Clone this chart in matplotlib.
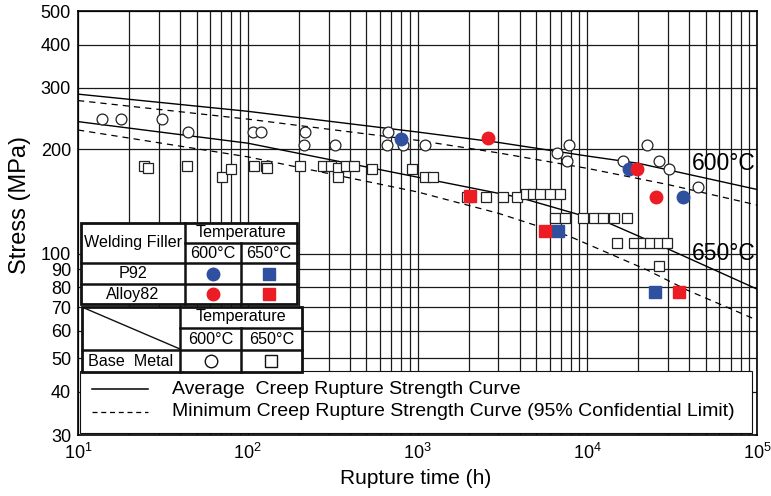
import numpy as np
import matplotlib.pyplot as plt
from matplotlib.patches import Rectangle
from matplotlib.lines import Line2D
from matplotlib.transforms import IdentityTransform
from matplotlib.ticker import FixedLocator, FixedFormatter, NullLocator

plt.rcParams['font.family'] = ['Liberation Sans', 'DejaVu Sans']

W, H = 771, 496
BLUE = '#2f4f9f'
RED = '#ec1c24'

# creep rupture strength curves (time h, stress MPa)
t_avg_600 = [10, 100, 1000, 3000, 10000, 20000, 100000]
s_avg_600 = [288, 257, 224, 209, 191, 182, 153]
t_min_600 = [10, 100, 1000, 3000, 10000, 30000, 100000]
s_min_600 = [276, 244, 212, 195, 176, 158, 138]
t_avg_650 = [10, 100, 1000, 4000, 13600, 30700, 100000]
s_avg_650 = [240, 208, 166, 145, 122, 102.5, 79]
t_min_650 = [10, 100, 1000, 3000, 7900, 22500, 38700, 100000]
s_min_650 = [227, 190, 150.5, 130.6, 112, 89.7, 78.5, 64.3]

# base metal 600C (open circles)
t_base_600 = [13.8, 17.8, 31.1, 44.5, 107, 119, 218, 215, 327, 673, 658, 824,
              1107, 6607, 7839, 7632, 22590, 16300, 26360, 30310, 44920]
s_base_600 = [244, 244, 244, 224.5, 224, 224, 224.5, 205, 205, 224.5, 205, 205,
              205.5, 194.5, 205.5, 184.4, 205, 185, 185, 175, 155.5]

# base metal 650C (open squares)
t_base_650 = [24.5, 25.7, 43.7, 70.2, 80, 108.8, 128, 130, 203, 278.6, 308, 342,
              379, 422.7, 338.8, 541.6, 924, 1107, 1239,
              1970, 2533, 3189, 3857, 4357, 4790, 5268, 6034, 6907,
              6457, 7396, 9446, 10960, 12380, 14380, 17140,
              14960, 18950, 21290, 23400, 26420, 29440, 26360]
s_base_650 = [178.8, 176.1, 178.8, 165.8, 175.7, 178.8, 178.8, 176, 178.8, 178.8, 178.8, 177,
              178.8, 178.8, 165.8, 175.7, 175.7, 165.8, 165.8,
              146, 146, 146, 146, 148.4, 148.4, 148.4, 148.4, 148.4,
              126.4, 126.4, 126.4, 126.4, 126.4, 126.4, 126.4,
              107.1, 107.1, 107.1, 107.1, 107.1, 107.1, 92.3]

# weld joints
t_p92_600 = [800, 17550, 36490]
s_p92_600 = [214, 175, 146]
t_a82_600 = [2592, 19720, 25520]
s_a82_600 = [215, 175, 146]
t_p92_650 = [6752, 25180]
s_p92_650 = [116.4, 77.6]
t_a82_650 = [2038, 5637, 34840]
s_a82_650 = [146.5, 116.4, 77.6]

y_ticks = [30, 40, 50, 60, 70, 80, 90, 100, 200, 300, 400, 500]
x_ticks = [10, 100, 1000, 10000, 100000]
x_labels = [r'$\mathregular{10^{%d}}$' % i for i in range(1, 6)]

fig = plt.figure(figsize=(W / 100, H / 100), dpi=100)
ax = fig.add_axes([78 / W, 1 - 435 / H, (757 - 78) / W, (435 - 11) / H])
ax.set_xscale('log')
ax.set_yscale('log')
ax.set_xlim(10, 1e5)
ax.set_ylim(30, 500)

ax.yaxis.set_major_locator(FixedLocator(y_ticks))
ax.yaxis.set_major_formatter(FixedFormatter([str(v) for v in y_ticks]))
ax.yaxis.set_minor_locator(NullLocator())
ax.xaxis.set_major_locator(FixedLocator(x_ticks))
ax.xaxis.set_major_formatter(FixedFormatter(x_labels))
minor_x = [m * 10 ** d for d in range(1, 5) for m in range(2, 10)]
ax.xaxis.set_minor_locator(FixedLocator(minor_x))
ax.grid(True, which='both', color='#1a1a1a', lw=0.9)
ax.tick_params(which='both', length=0, labelsize=13)
ax.tick_params(axis='y', pad=5)
ax.tick_params(axis='x', pad=6)
for sp in ax.spines.values():
    sp.set_linewidth(1.2)

ax.plot(t_avg_600, s_avg_600, color='black', lw=1.0)
ax.plot(t_min_600, s_min_600, color='black', lw=0.9, ls=(0, (5, 4)))
ax.plot(t_avg_650, s_avg_650, color='black', lw=1.0)
ax.plot(t_min_650, s_min_650, color='black', lw=0.9, ls=(0, (5, 4)))

ax.plot(t_base_600, s_base_600, 'o', ms=7.8, mfc='white', mec='#222222', mew=0.9, ls='none', zorder=3)
ax.plot(t_base_650, s_base_650, 's', ms=7.2, mfc='white', mec='#222222', mew=0.9, ls='none', zorder=3)
ax.plot(t_p92_600, s_p92_600, 'o', ms=9, color=BLUE, ls='none', zorder=4)
ax.plot(t_a82_600, s_a82_600, 'o', ms=9, color=RED, ls='none', zorder=4)
ax.plot(t_p92_650, s_p92_650, 's', ms=8.4, color=BLUE, ls='none', zorder=4)
ax.plot(t_a82_650, s_a82_650, 's', ms=8.4, color=RED, ls='none', zorder=4)

fig.text(724 / W, 1 - 163 / H, '600°C', fontsize=16.5, ha='center', va='center')
fig.text(724 / W, 1 - 253 / H, '650°C', fontsize=16.5, ha='center', va='center')

fig.text(20 / W, 1 - 205 / H, 'Stress (MPa)', fontsize=17, rotation=90, ha='center', va='center')
fig.text(416 / W, 1 - 478 / H, 'Rupture time (h)', fontsize=15, ha='center', va='center')

tr = IdentityTransform()


def P(x, y):
    return x, H - y


def box(x0, y0, x1, y1, lw=2.0):
    ax.add_patch(Rectangle(P(x0, y1), x1 - x0, y1 - y0, transform=tr, fc='white',
                           ec='#111111', lw=lw, zorder=6, clip_on=False))


def seg(x0, y0, x1, y1, lw=1.8, ls='-', color='#111111'):
    ax.add_line(Line2D([x0, x1], [H - y0, H - y1], transform=tr, color=color, lw=lw,
                       ls=ls, zorder=7, clip_on=False))


def txt(x, y, s, size=11.6):
    ax.text(*P(x, y), s, transform=tr, fontsize=size, ha='center', va='center',
            zorder=8, clip_on=False)


def mark(x, y, m, size, fc, ec):
    ax.add_line(Line2D([x], [H - y], transform=tr, marker=m, ms=size, mfc=fc, mec=ec,
                       mew=1.0, ls='none', zorder=8, clip_on=False))


# legend box
box(80, 371, 752, 433, lw=0.8)
seg(92, 389, 148, 389, lw=1.1, color='black')
seg(92, 412, 148, 412, lw=0.9, ls=(0, (4, 3)), color='black')
ax.text(*P(172, 389), 'Average  Creep Rupture Strength Curve', transform=tr,
        fontsize=14, ha='left', va='center', zorder=8)
ax.text(*P(172, 412), 'Minimum Creep Rupture Strength Curve (95% Confidential Limit)',
        transform=tr, fontsize=14, ha='left', va='center', zorder=8)

# welding filler table
box(81, 222.7, 297.3, 304)
seg(185, 242.7, 297.3, 242.7)
seg(81, 263.3, 297.3, 263.3)
seg(81, 284, 297.3, 284)
seg(185, 222.7, 185, 304)
seg(241, 242.7, 241, 304)
txt(133, 243, 'Welding Filler')
txt(241, 232.7, 'Temperature')
txt(213, 253, '600°C')
txt(269, 253, '650°C')
txt(133, 273.7, 'P92')
txt(133, 294, 'Alloy82')
mark(213, 273.7, 'o', 9, BLUE, BLUE)
mark(269, 273.7, 's', 8.4, BLUE, BLUE)
mark(213, 294, 'o', 9, RED, RED)
mark(269, 294, 's', 8.4, RED, RED)

# base metal table
box(81.7, 306.7, 301.7, 371.7)
seg(180, 327.7, 301.7, 327.7)
seg(81.7, 350, 301.7, 350)
seg(180, 306.7, 180, 371.7)
seg(241, 327.7, 241, 371.7)
seg(83, 307.5, 180, 349, lw=1.0)
txt(241, 317, 'Temperature')
txt(210.5, 339, '600°C')
txt(271.3, 339, '650°C')
txt(131, 361, 'Base  Metal')
mark(211, 361, 'o', 9, 'white', '#111111')
mark(271, 361, 's', 8.4, 'white', '#111111')

fig.savefig('out.png', dpi=100)
